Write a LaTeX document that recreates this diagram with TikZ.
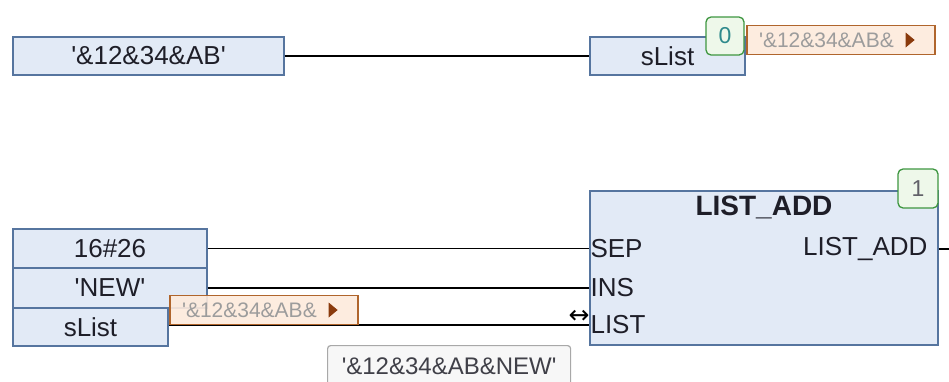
\documentclass[tikz,border=0pt]{standalone}
\usepackage{fontspec}
\newfontfamily\fbdfont{Liberation Sans}
\newfontfamily\symfont{DejaVu Sans}
\usepackage{tikz}
\usetikzlibrary{positioning,calc}
\definecolor{fbdfill}{HTML}{E2EAF6}
\definecolor{fbdline}{HTML}{56759F}
\definecolor{fbdgreen}{HTML}{3E9640}
\definecolor{fbdmint}{HTML}{EEF8EA}
\definecolor{fbdteal}{HTML}{2E8A8C}
\definecolor{fbdpeach}{HTML}{FDEADC}
\definecolor{fbdrust}{HTML}{B0652C}
\definecolor{fbdbrown}{HTML}{8A3A0C}
\definecolor{fbdgray}{HTML}{9C9C9C}
\definecolor{fbdtip}{HTML}{A8A8A8}
\definecolor{fbdink}{HTML}{1E1E28}

\tikzset{
  varbox/.style={draw=fbdline,fill=fbdfill,line width=1.3pt,inner sep=0pt,text=fbdink,
    font=\fbdfont\fontsize{26}{28}\selectfont},
  badge/.style={draw=fbdgreen,fill=fbdmint,line width=1.3pt,rounded corners=5pt,inner sep=0pt,
    text=fbdteal,font=\fbdfont\fontsize{23}{25}\selectfont},
  valbox/.style={draw=fbdrust,fill=fbdpeach,fill opacity=0.9,text opacity=1,line width=1.3pt,
    minimum height=29pt,inner ysep=0pt,inner xsep=12pt,text width=164pt,align=left,
    text=fbdgray,font=\fbdfont\fontsize{21}{23}\selectfont},
  pin/.style={inner sep=1pt,text=fbdink,font=\fbdfont\fontsize{26}{28}\selectfont},
  wire/.style={line width=1.3pt}
}

\begin{document}
\begin{tikzpicture}[x=1pt,y=-1pt]
\useasboundingbox (0,0) rectangle (949,381);

\node[varbox,minimum width=271pt,minimum height=38pt] (str) at (148.5,56) {'\&12\&34\&AB'};
\node[varbox,minimum width=155pt,minimum height=38pt] (slist) at (667.5,56) {sList};
\draw[wire] (str.east) -- (slist.west);
\node[badge,minimum size=38pt] (nr0) at (725,36) {0};
\node[valbox] (val0) at (841,40) {'\&12\&34\&AB\&};
\fill[fbdbrown] ($(val0.east)+(-30,-7.5)$) -- ++(0,15) -- ++(9,-7.5) -- cycle;

\node[varbox,minimum width=348pt,minimum height=154pt] (fb) at (764,268) {};
\node[pin,font=\fbdfont\bfseries\fontsize{28}{30}\selectfont,below=4pt of fb.north] (fbname) {LIST\_ADD};
\node[badge,minimum width=40pt,minimum height=39pt,text=fbdink!70] (nr1) at (918,188.5) {1};

\node[varbox,minimum width=194pt,minimum height=39pt] (sep) at (110,248.5) {16\#26};
\node[varbox,minimum width=194pt,minimum height=40pt] (ins) at (110,288) {'NEW'};
\node[varbox,minimum width=155pt,minimum height=38pt] (lst) at (90.5,327) {sList};

\node[pin,anchor=west] (pinsep) at (fb.west |- sep) {SEP};
\node[pin,anchor=west] (pinins) at (fb.west |- ins) {INS};
\node[pin,anchor=west] (pinlst) at ($(fb.west |- lst)+(0,-2)$) {LIST};
\coordinate (out) at (949,249);
\node[pin,anchor=east] (pinout) at ($(fb.east |- out)+(-10,0)$) {LIST\_ADD};

\draw[wire] (sep.east) -- (sep.east -| fb.west);
\draw[wire] (ins.east) -- (ins.east -| fb.west);
\draw[wire] ($(lst.east)+(0,-2)$) -- (pinlst.west -| fb.west);
\draw[wire] (fb.east |- out) -- (out);
\node[inner sep=0pt,font=\symfont\fontsize{25}{25}\selectfont] (inout) at (579,317) {↔};

\node[valbox] (val1) at (264,310) {'\&12\&34\&AB\&};
\fill[fbdbrown] ($(val1.east)+(-30,-7.5)$) -- ++(0,15) -- ++(9,-7.5) -- cycle;

\node[draw=fbdtip,fill=white!97!black,line width=1.2pt,rounded corners=3pt,anchor=north west,
      minimum width=243pt,minimum height=42pt,inner sep=0pt,text=fbdink!85,
      font=\fbdfont\fontsize{24}{26}\selectfont] (tip) at (327,345) {'\&12\&34\&AB\&NEW'};
\end{tikzpicture}
\end{document}
